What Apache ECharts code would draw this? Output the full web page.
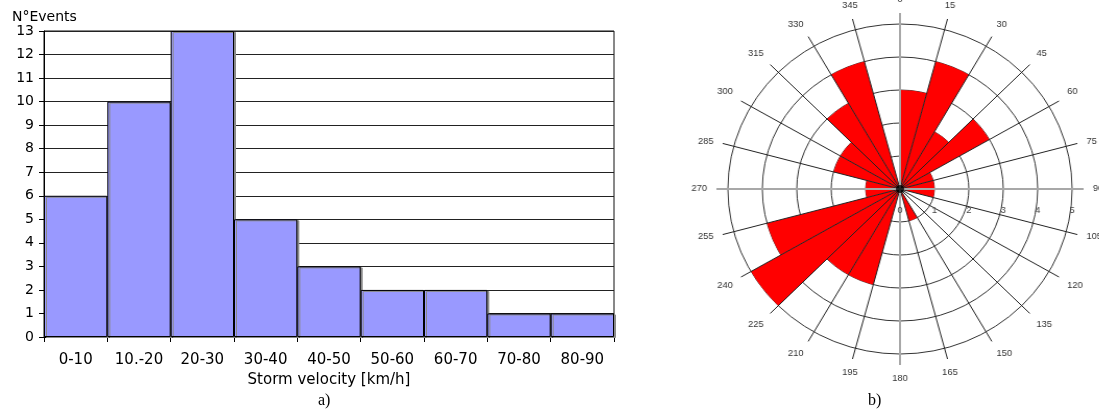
<!DOCTYPE html>
<html>
<head>
<meta charset="utf-8">
<script src="https://cdn.jsdelivr.net/npm/echarts@6/dist/echarts.min.js"></script>
<style>
  html, body { margin: 0; padding: 0; background: #fff; overflow: hidden; }
  #hist { position: absolute; left: 0; top: 0; width: 1099px; height: 414px; }
  /* the wind rose is drawn slightly wider than tall */
  #rose { position: absolute; left: 700px; top: 0; width: 400px; height: 414px;
          transform: scaleX(1.043); transform-origin: 200px 0; }
</style>
</head>
<body>
<div id="hist"></div>
<div id="rose"></div>
<script>
// a) number of storm events per velocity class
const velocityClasses = ['0-10', '10.-20', '20-30', '30-40', '40-50', '50-60', '60-70', '70-80', '80-90'];
const eventCounts = [6, 10, 13, 5, 3, 2, 2, 1, 1];

// b) number of storm events per 15° direction sector (clockwise from north)
const directionSectors = ['0-15', '15-30', '30-45', '45-60', '60-75', '75-90',
  '90-105', '105-120', '120-135', '135-150', '150-165', '165-180',
  '180-195', '195-210', '210-225', '225-240', '240-255', '255-270',
  '270-285', '285-300', '300-315', '315-330', '330-345', '345-360'];
const directionCounts = [3, 4, 2, 3, 1, 1, 1, 0, 0, 0, 1, 0, 0, 3, 3, 5, 4, 1, 1, 2, 2, 3, 4, 0];
const ringMax = 5;

const FONT = 'DejaVu Sans';

// ---------- histogram ----------
const hist = echarts.init(document.getElementById('hist'), null, { renderer: 'canvas' });
hist.setOption({
  animation: false,
  grid: { left: 44, right: 485, top: 31, bottom: 77, show: true, borderColor: '#111', borderWidth: 1 },
  xAxis: {
    type: 'category',
    data: velocityClasses,
    axisLine: { lineStyle: { color: '#000', width: 1 } },
    axisTick: { show: true, length: 5, lineStyle: { color: '#000' } },
    axisLabel: { color: '#000', fontFamily: FONT, fontSize: 15, margin: 16 },
    name: 'Storm velocity [km/h]',
    nameLocation: 'middle',
    nameGap: 35,
    nameTextStyle: { color: '#000', fontFamily: FONT, fontSize: 15 }
  },
  yAxis: {
    type: 'value',
    min: 0, max: 13, interval: 1,
    axisLine: { show: true, lineStyle: { color: '#000', width: 1 } },
    axisTick: { show: true, length: 5, lineStyle: { color: '#000' } },
    axisLabel: { color: '#000', fontFamily: FONT, fontSize: 14, margin: 10 },
    splitLine: { show: true, lineStyle: { color: '#222', width: 1 } }
  },
  series: [{
    type: 'bar',
    data: eventCounts,
    barCategoryGap: '0%',
    itemStyle: {
      color: '#9999ff',
      borderColor: '#000',
      borderWidth: 1,
      shadowColor: '#8a8a8a',
      shadowOffsetX: 2,
      shadowOffsetY: 1,
      shadowBlur: 0
    }
  }],
  graphic: [
    { type: 'text', left: 12, top: 10,
      style: { text: 'N°Events', font: '14px "DejaVu Sans"', fill: '#000' } },
    { type: 'text', left: 318, top: 393,
      style: { text: 'a)', font: '16px "Liberation Serif"', fill: '#000' } },
    { type: 'text', left: 868, top: 393,
      style: { text: 'b)', font: '16px "Liberation Serif"', fill: '#000' } }
  ]
});

// ---------- wind rose ----------
const rose = echarts.init(document.getElementById('rose'), null, { renderer: 'canvas' });
const C = [200, 189];
const R_RING = 165;   // radius of the outermost ring (value 5)
const R_SPOKE = 176;  // spokes reach a little past the rings
rose.setOption({
  animation: false,
  polar: [
    { center: C, radius: R_RING },
    { center: C, radius: R_SPOKE },
    { center: C, radius: R_SPOKE }
  ],
  angleAxis: [
    { // sectors holding the petals
      polarIndex: 0, type: 'category', data: directionSectors,
      startAngle: 90, clockwise: true,
      axisLine: { show: false }, axisTick: { show: false },
      axisLabel: { show: false }, splitLine: { show: false }
    },
    { // 15° spokes and their labels
      polarIndex: 1, type: 'value', min: 0, max: 360, interval: 15,
      startAngle: 90, clockwise: true, z: 5,
      axisLine: { show: false }, axisTick: { show: false },
      axisLabel: {
        color: '#333', fontFamily: 'Liberation Sans', fontSize: 9, margin: 9,
        formatter: v => (v >= 360 ? '' : String(v))
      },
      splitLine: {
        show: true,
        lineStyle: { color: ['transparent', '#222', '#222', '#222', '#222', '#222'], width: 1 }
      }
    },
    { // N-E-S-W axes
      polarIndex: 2, type: 'value', min: 0, max: 360, interval: 90,
      startAngle: 0, clockwise: true, z: 6,
      axisLine: { show: false }, axisTick: { show: false },
      axisLabel: { show: false },
      splitLine: { show: true, lineStyle: { color: '#a8a8a8', width: 2 } }
    }
  ],
  radiusAxis: [
    { // rings
      polarIndex: 0, type: 'value', min: 0, max: ringMax, interval: 1,
      axisLine: { show: false }, axisTick: { show: false }, axisLabel: { show: false },
      splitLine: { show: true, lineStyle: { color: '#333', width: 1 } }
    },
    { polarIndex: 1, type: 'value', min: 0, max: ringMax, show: false },
    { // ring labels along the east axis
      polarIndex: 2, type: 'value', min: 0, max: ringMax * R_SPOKE / R_RING, interval: 1,
      z: 7,
      axisLine: { show: false }, axisTick: { show: false },
      splitLine: { show: false },
      axisLabel: { show: true, showMaxLabel: false, color: '#444', fontFamily: 'Liberation Sans',
                   fontSize: 9, margin: -26 }
    }
  ],
  series: [
    {
      type: 'bar',
      coordinateSystem: 'polar',
      polarIndex: 0,
      data: directionCounts,
      barCategoryGap: '0%',
      itemStyle: { color: '#ff0000' },
      z: 2
    },
    {
      type: 'scatter',
      coordinateSystem: 'polar',
      polarIndex: 0,
      data: [[0, 0]],
      symbol: 'circle',
      symbolSize: 8,
      itemStyle: { color: '#000' },
      z: 10
    }
  ]
});
</script>
</body>
</html>
